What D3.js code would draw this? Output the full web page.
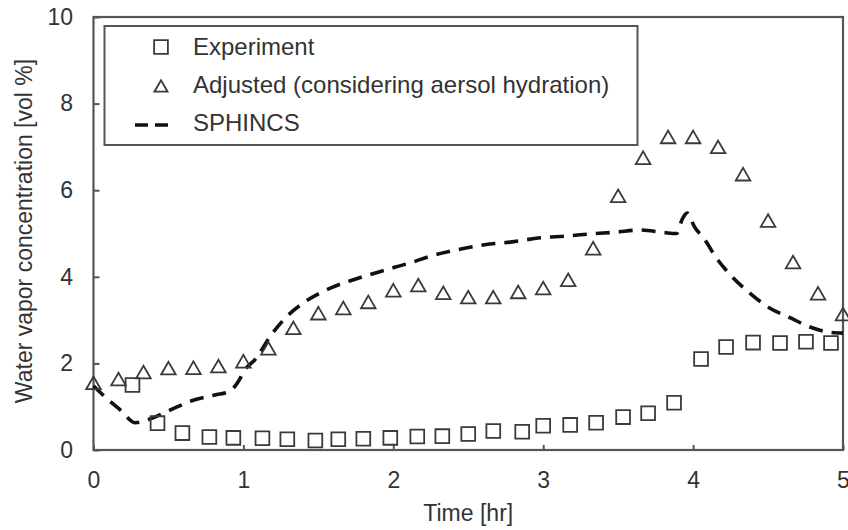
<!DOCTYPE html>
<html><head><meta charset="utf-8">
<script src="https://cdn.jsdelivr.net/npm/d3@7"></script>
<style>
body{margin:0;background:#fff;}
svg{display:block;font-family:"Liberation Sans",Arial,sans-serif;}
</style></head>
<body><svg id="c" width="848" height="530"></svg>
<script>
const xTicks = [0,1,2,3,4,5];
const yTicks = [0,2,4,6,8,10];
const adjTime = [0,1/6,2/6,3/6,4/6,5/6,1,7/6,8/6,9/6,10/6,11/6,2,13/6,14/6,15/6,16/6,17/6,3,19/6,20/6,21/6,22/6,23/6,4,25/6,26/6,27/6,28/6,29/6,5];
const adjValue = [1.55,1.64,1.8,1.89,1.9,1.94,2.05,2.35,2.82,3.16,3.28,3.42,3.69,3.81,3.63,3.53,3.53,3.65,3.74,3.93,4.66,5.87,6.75,7.23,7.23,7.0,6.37,5.3,4.34,3.62,3.14];
const expTime = [0.26,0.427,0.593,0.773,0.933,1.127,1.293,1.48,1.633,1.8,1.98,2.16,2.327,2.5,2.667,2.86,3.0,3.18,3.353,3.533,3.7,3.873,4.053,4.22,4.4,4.58,4.753,4.92];
const expValue = [1.5,0.62,0.39,0.3,0.28,0.27,0.25,0.22,0.25,0.26,0.28,0.31,0.32,0.37,0.44,0.42,0.56,0.58,0.63,0.76,0.85,1.09,2.1,2.38,2.48,2.47,2.5,2.47];
const simTime = [0,0.07,0.18,0.28,0.38,0.51,0.65,0.81,0.91,0.96,1.01,1.08,1.18,1.28,1.41,1.58,1.75,1.95,2.11,2.25,2.45,2.61,2.78,2.98,3.15,3.31,3.48,3.65,3.81,3.89,3.93,3.96,4.01,4.08,4.15,4.25,4.38,4.51,4.65,4.78,4.91,5.0];
const simValue = [1.48,1.25,0.92,0.63,0.72,0.92,1.13,1.27,1.36,1.55,1.85,2.1,2.63,3.05,3.42,3.74,3.95,4.16,4.32,4.48,4.64,4.74,4.8,4.9,4.94,4.99,5.03,5.08,5.02,5.0,5.35,5.47,5.15,4.85,4.46,4.04,3.62,3.28,3.05,2.84,2.72,2.7];
const legendLabels = ["Experiment","Adjusted (considering aersol hydration)","SPHINCS"];

const svg = d3.select("#c");
const L=93.5, R=843, T=17, B=450;
const x = d3.scaleLinear().domain([0,5]).range([L,R]);
const y = d3.scaleLinear().domain([0,10]).range([B,T]);
const axisCol="#555", txtCol="#333", mk="#3a3a3a";

const triType = {draw(ctx,size){const s=Math.sqrt(size*4/Math.sqrt(3));const h=s*Math.sqrt(3)/2;ctx.moveTo(0,-h/2);ctx.lineTo(s/2,h/2);ctx.lineTo(-s/2,h/2);ctx.closePath();}};
const sq = d3.symbol().type(d3.symbolSquare).size(190);
const tri = d3.symbol().type(triType).size(92);

// axes
const ya = svg.append("g").attr("transform",`translate(${L},0)`)
  .call(d3.axisLeft(y).tickValues(yTicks).tickFormat(d3.format("d")).tickSize(-6).tickPadding(20.5));
const xa = svg.append("g").attr("transform",`translate(0,${B})`)
  .call(d3.axisBottom(x).tickValues(xTicks).tickFormat(d3.format("d")).tickSize(-5).tickPadding(21.5));
[ya,xa].forEach(g=>{
  g.select(".domain").remove();
  g.selectAll(".tick line").attr("stroke",axisCol).attr("stroke-width",2);
  g.selectAll(".tick text").attr("fill",txtCol).style("font-size","23px");
});
// frame
svg.append("rect").attr("x",L).attr("y",T).attr("width",R-L).attr("height",B-T)
  .attr("fill","none").attr("stroke",axisCol).attr("stroke-width",2.2);

// SPHINCS line
const simData = simTime.map((t,i)=>[t,simValue[i]]);
svg.append("path").datum(simData)
  .attr("d",d3.line().x(d=>x(d[0])).y(d=>y(d[1])).curve(d3.curveMonotoneX))
  .attr("fill","none").attr("stroke","#111").attr("stroke-width",3.6)
  .attr("stroke-dasharray","14,9");

// Experiment squares
svg.append("g").selectAll("path").data(expTime.map((t,i)=>[t,expValue[i]])).join("path")
  .attr("d",sq).attr("transform",d=>`translate(${x(d[0])},${y(d[1])})`)
  .attr("fill","none").attr("stroke",mk).attr("stroke-width",1.8);
// Adjusted triangles
svg.append("g").selectAll("path").data(adjTime.map((t,i)=>[t,adjValue[i]])).join("path")
  .attr("d",tri).attr("transform",d=>`translate(${x(d[0])},${y(d[1])})`)
  .attr("fill","none").attr("stroke",mk).attr("stroke-width",1.8);

// legend
svg.append("rect").attr("x",104.5).attr("y",26).attr("width",533).attr("height",119)
  .attr("fill","#fff").attr("stroke",axisCol).attr("stroke-width",2);
svg.append("path").attr("d",sq).attr("transform","translate(161,47)")
  .attr("fill","none").attr("stroke",mk).attr("stroke-width",1.8);
svg.append("path").attr("d",d3.symbol().type(triType).size(75)).attr("transform","translate(161,86)")
  .attr("fill","none").attr("stroke",mk).attr("stroke-width",1.8);
svg.append("line").attr("x1",135).attr("x2",168).attr("y1",125).attr("y2",125)
  .attr("stroke","#111").attr("stroke-width",3.6).attr("stroke-dasharray","13,7");
const lby=[55,93,131];
legendLabels.forEach((s,i)=>svg.append("text").attr("x",193).attr("y",lby[i])
  .attr("fill",txtCol).style("font-size","24px").text(s));

// axis titles
svg.append("text").attr("x",(L+R)/2).attr("y",521).attr("text-anchor","middle")
  .attr("fill",txtCol).style("font-size","23px").text("Time [hr]");
svg.append("text").attr("transform","translate(32,231) rotate(-90)").attr("text-anchor","middle")
  .attr("fill",txtCol).style("font-size","23px").text("Water vapor concentration [vol %]");
</script></body></html>
